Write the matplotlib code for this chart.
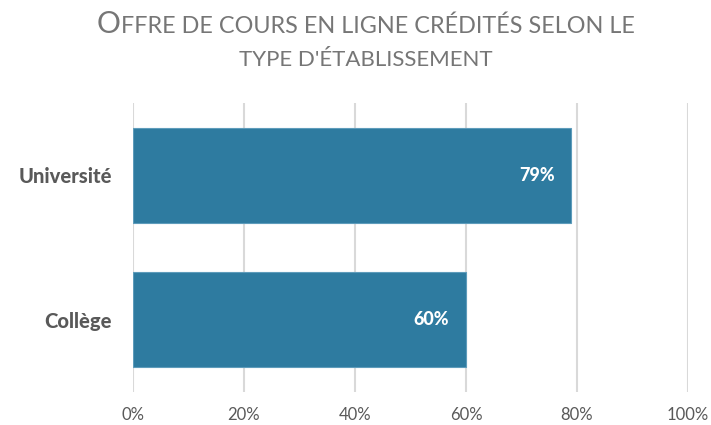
import matplotlib
matplotlib.use("Agg")
import matplotlib.pyplot as plt

plt.rcParams['font.family'] = ['Lato', 'DejaVu Sans']

categories = ["Collège", "Université"]
values = [60, 79]
value_labels = ["60%", "79%"]
xticks = [0, 20, 40, 60, 80, 100]
xtick_labels = ["0%", "20%", "40%", "60%", "80%", "100%"]

BAR = "#2E7BA0"
GRID = "#D9D9D9"
TXT = "#595959"
TITLE = "#767676"

fig = plt.figure(figsize=(7.11, 4.25), dpi=100)
ax = fig.add_axes([133 / 711, 1 - 392 / 425, (688 - 133) / 711, (392 - 103) / 425])

ypos = list(range(len(categories)))
ax.barh(ypos, values, height=0.66, color=BAR, edgecolor="#5E9CBB", linewidth=0.8, zorder=3)
for y, v, lab in zip(ypos, values, value_labels):
    ax.text(v - 3, y, lab, ha="right", va="center", color="white",
            fontsize=13, fontweight="black", zorder=4)

ax.set_xlim(0, 100)
ax.set_ylim(-0.5, 1.5)
ax.set_xticks(xticks)
ax.set_xticklabels(xtick_labels, fontsize=12, color=TXT)
ax.set_yticks(ypos)
ax.set_yticklabels(categories, fontsize=14.5, fontweight="black", color=TXT)
ax.tick_params(axis="x", length=0, pad=11)
ax.tick_params(axis="y", length=0, pad=15)
ax.xaxis.grid(True, color=GRID, linewidth=1.5, zorder=0)
for s in ax.spines.values():
    s.set_visible(False)

# title in small caps: big first letter, then smaller capitals
renderer = fig.canvas.get_renderer()
cx = 366
big = fig.text(0, 0, "O", fontsize=21.5, color=TITLE, transform=None)
rest = fig.text(0, 0, "FFRE DE COURS EN LIGNE CRÉDITÉS SELON LE", fontsize=16.8,
                color=TITLE, transform=None)
w1 = big.get_window_extent(renderer).width
w2 = rest.get_window_extent(renderer).width
x0 = cx - (w1 + w2) / 2
base1 = 425 - 33
big.set_position((x0, base1))
big.set_va("baseline")
rest.set_position((x0 + w1, base1))
rest.set_va("baseline")
fig.text(cx, 425 - 66, "TYPE D'ÉTABLISSEMENT", fontsize=16, color=TITLE,
         ha="center", va="baseline", transform=None)

fig.savefig("out.png", dpi=100)
